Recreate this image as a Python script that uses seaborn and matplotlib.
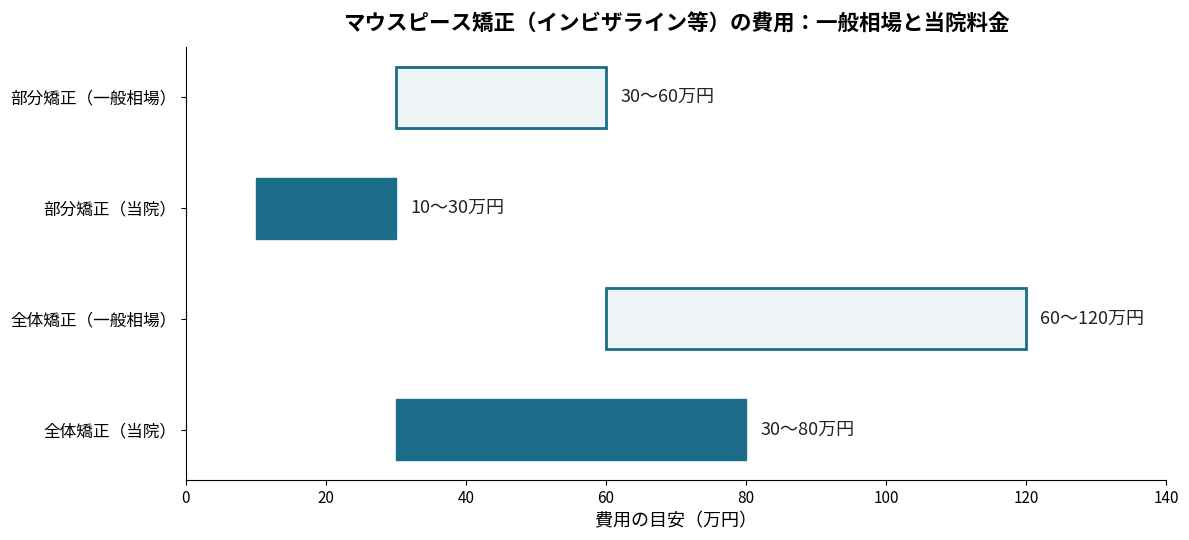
import matplotlib
matplotlib.use("Agg")
import matplotlib.pyplot as plt
import seaborn as sns

categories = ["部分矯正（一般相場）", "部分矯正（当院）", "全体矯正（一般相場）", "全体矯正（当院）"]
starts = [30, 10, 60, 30]
ends = [60, 30, 120, 80]
is_clinic = [False, True, False, True]
bar_labels = ["30〜60万円", "10〜30万円", "60〜120万円", "30〜80万円"]

sns.set_style("ticks", {"text.color": "black", "xtick.color": "black",
                        "ytick.color": "black", "axes.labelcolor": "black",
                        "axes.edgecolor": "black"})
plt.rcParams["font.family"] = ["Noto Sans CJK JP", "DejaVu Sans"]

dark = "#1b6d8a"
light = "#eef3f5"

fig, ax = plt.subplots(figsize=(11.89, 5.4), dpi=100)
plt.subplots_adjust(left=0.1564, right=0.9807, top=0.913, bottom=0.111)

ypos = list(range(len(categories)))
for y, s, e, c in zip(ypos, starts, ends, is_clinic):
    if c:
        ax.barh(y, e - s, left=s, height=0.55, color=dark, edgecolor=dark, linewidth=1)
    else:
        ax.barh(y, e - s, left=s, height=0.55, color=light, edgecolor=dark, linewidth=2)

for y, e, t in zip(ypos, ends, bar_labels):
    ax.text(e + 2, y, t, va="center", ha="left", fontsize=13, color="#222222")

ax.set_yticks(ypos)
ax.set_yticklabels(categories, fontsize=12)
ax.invert_yaxis()
ax.set_xlim(0, 140)
ax.tick_params(axis="x", labelsize=11)
ax.set_xlabel("費用の目安（万円）", fontsize=13)
ax.set_title("マウスピース矯正（インビザライン等）の費用：一般相場と当院料金", fontsize=15.5, weight="bold", pad=12)
sns.despine(ax=ax)

plt.savefig("out.png", dpi=100)
